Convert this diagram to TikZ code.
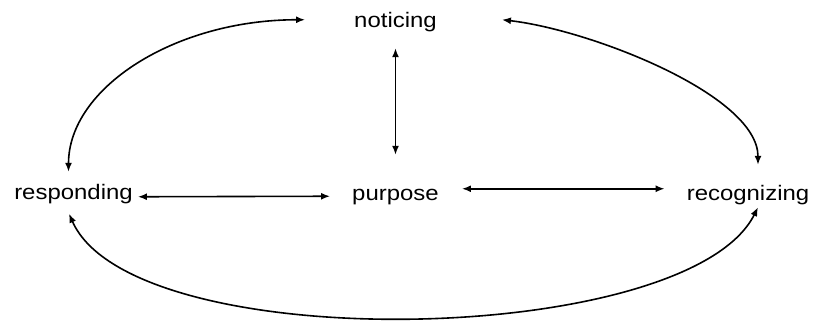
\documentclass[tikz,border=0pt]{standalone}
\usepackage{fontspec}
\usetikzlibrary{arrows.meta}
\newfontfamily\wordfont{Liberation Sans}[FakeStretch=1.14]

\begin{document}
\begin{tikzpicture}[
  x=1pt,
  y=-1pt,
  every node/.style={font=\wordfont\fontsize{21}{24}\selectfont, black},
  word/.style={anchor=base, inner sep=0pt, text height=15pt, text depth=4.5pt},
  link/.style={black, line width=1.6pt, {Latex[length=9pt,width=7pt]}-{Latex[length=9pt,width=7pt]}}
]
  % ---- page, same size as the figure ------------------------------------
  \useasboundingbox (0,0) rectangle (814,322);

  % ---- the four words ----------------------------------------------------
  \node[word] (notice)  at (395.5,27)  {noticing};
  \node[word] (respond) at (73.5,199)  {responding};
  \node[word] (purpose) at (395.5,200) {purpose};
  \node[word] (recog)   at (748,200)   {recognizing};

  % ---- straight links through the middle ---------------------------------
  \draw[link, shorten <=16.5pt, shorten >=30pt] (notice) -- (purpose);
  \draw[link] ([xshift=5pt,yshift=-3pt]respond.east)
    -- ([xshift=-22pt,yshift=-1.5pt]purpose.west);
  \draw[link] ([xshift=23pt,yshift=6pt]purpose.east)
    -- ([xshift=-22pt,yshift=6pt]recog.west);

  % ---- the outer ring ----------------------------------------------------
  \draw[link] ([xshift=-49pt,yshift=2pt]notice.west)
    .. controls +(-130,0) and +(0,-84) ..
    ([xshift=-5pt,yshift=12pt]respond.north);
  \draw[link] ([xshift=65pt,yshift=2pt]notice.east)
    .. controls +(88,10) and +(0,-70) ..
    ([xshift=10pt,yshift=20pt]recog.north);
  \draw[link] ([xshift=-4.5pt,yshift=-10pt]respond.south)
    .. controls +(64,145) and +(-70,140) ..
    ([xshift=10pt,yshift=-2.5pt]recog.south);

\end{tikzpicture}
\end{document}
